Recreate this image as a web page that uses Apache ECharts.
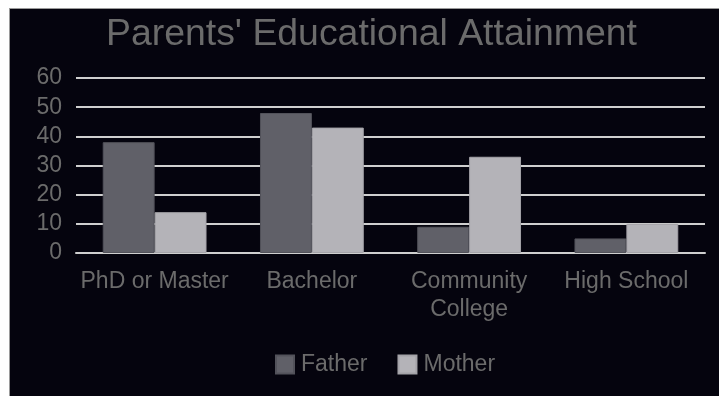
<!DOCTYPE html>
<html>
<head>
<meta charset="utf-8">
<script src="https://cdn.jsdelivr.net/npm/echarts@6/dist/echarts.min.js"></script>
<style>
  html, body { margin: 0; padding: 0; background: #fff; }
  .edu {
    position: absolute;
    left: 9px;
    top: 8px;
    width: 709px;
    height: 387px;
    border-left: 1px solid #9a9a9a;
    border-top: 1px solid #9a9a9a;
  }
</style>
</head>
<body>
<div class="edu" id="edu"></div>
<script>
// 数据
var categories = ["PhD or Master", "Bachelor", "Community\nCollege", "High School"];
var fatherData = [38, 48, 9, 5];
var motherData = [14, 43, 33, 10];
var seriesNames = ["Father", "Mother"];

var textColor = "#6b6b6b";
var font = "Liberation Sans, Arial, sans-serif";

var option = {
  backgroundColor: "#05040e",
  color: ["#606068", "#b4b3b8"],
  title: {
    text: "Parents' Educational Attainment",
    left: 91,
    top: 2,
    textStyle: {
      color: textColor,
      fontSize: 37.4,
      fontWeight: "normal",
      fontFamily: font,
    },
  },
  legend: {
    data: seriesNames,
    bottom: 15,
    left: 260,
    itemWidth: 18,
    itemHeight: 18,
    itemGap: 30,
    icon: "rect",
    textStyle: {
      color: textColor,
      fontSize: 23,
      fontFamily: font,
      padding: [0, 0, 0, 2],
    },
  },
  grid: {
    left: 66,
    right: 14,
    top: 69,
    bottom: 143,
    containLabel: false,
  },
  xAxis: {
    type: "category",
    data: categories,
    axisLine: { lineStyle: { color: "#cfcfcf", width: 2 } },
    axisTick: { show: false },
    axisLabel: {
      color: textColor,
      fontSize: 23,
      fontFamily: font,
      margin: 15,
      lineHeight: 28,
      interval: 0,
    },
  },
  yAxis: {
    type: "value",
    min: 0,
    max: 60,
    interval: 10,
    axisLine: { show: false },
    axisTick: { show: false },
    axisLabel: {
      color: textColor,
      fontSize: 23,
      fontFamily: font,
      margin: 14,
    },
    splitLine: { lineStyle: { color: "#cfcfcf", width: 2 } },
  },
  series: [
    {
      name: seriesNames[0],
      type: "bar",
      data: fatherData,
      barGap: "0%",
      barCategoryGap: "34%",
      itemStyle: { borderColor: "#52525a", borderWidth: 1 },
    },
    {
      name: seriesNames[1],
      type: "bar",
      data: motherData,
      barGap: "0%",
      barCategoryGap: "34%",
      itemStyle: { borderColor: "#a4a3a8", borderWidth: 1 },
    },
  ],
};

var eduChart = echarts.init(document.getElementById("edu"));
eduChart.setOption(option);
</script>
</body>
</html>
